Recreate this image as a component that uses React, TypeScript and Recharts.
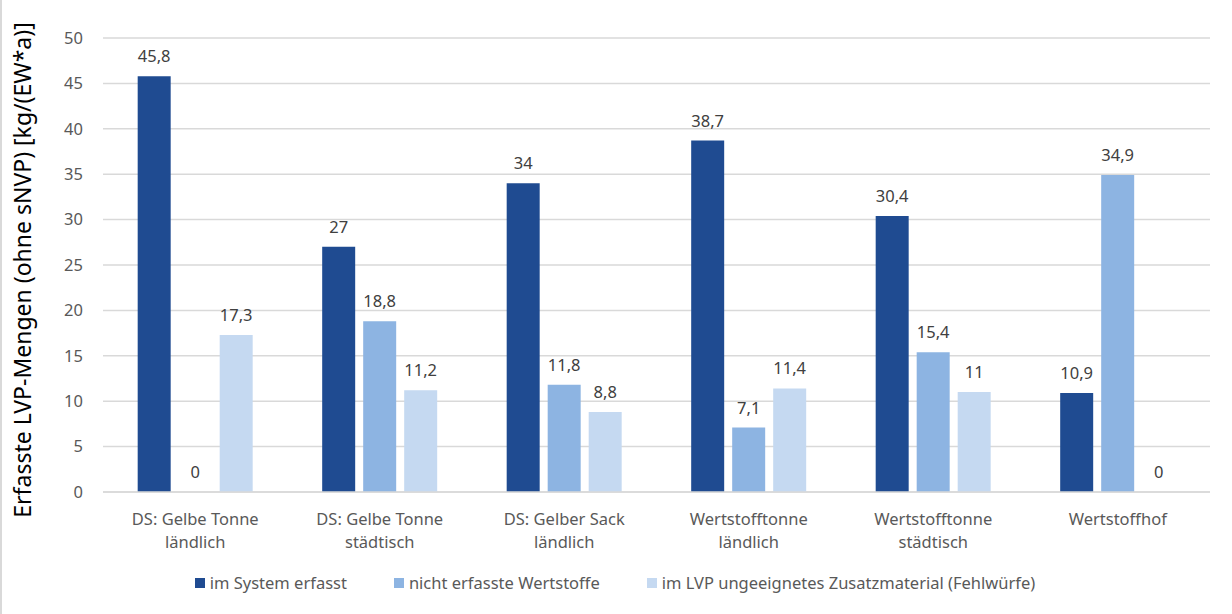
import React from 'react';
import { BarChart, Bar, XAxis, YAxis, CartesianGrid, LabelList } from 'recharts';

const categories = [
  'DS: Gelbe Tonne\nländlich',
  'DS: Gelbe Tonne\nstädtisch',
  'DS: Gelber Sack\nländlich',
  'Wertstofftonne\nländlich',
  'Wertstofftonne\nstädtisch',
  'Wertstoffhof',
];
const imSystem = [45.8, 27, 34, 38.7, 30.4, 10.9];
const nichtErfasst = [0, 18.8, 11.8, 7.1, 15.4, 34.9];
const fehlwuerfe = [17.3, 11.2, 8.8, 11.4, 11, 0];
const yTicks = [0, 5, 10, 15, 20, 25, 30, 35, 40, 45, 50];

const seriesNames = [
  'im System erfasst',
  'nicht erfasste Wertstoffe',
  'im LVP ungeeignetes Zusatzmaterial (Fehlwürfe)',
];
const seriesColors = ['#1F4B91', '#8DB4E2', '#C5D9F1'];

const data = categories.map((name, i) => ({
  name,
  a: imSystem[i],
  b: nichtErfasst[i],
  c: fehlwuerfe[i],
}));

const FONT = '"Noto Sans", "Open Sans", sans-serif';
const TXT = '#595959';

const CategoryTick = (props: any) => {
  const { x, y, payload } = props;
  const lines = String(payload.value).split('\n');
  return (
    <g transform={`translate(${x},${y})`}>
      {lines.map((l, i) => (
        <text key={i} x={0} y={25 + i * 23} textAnchor="middle" fill={TXT} fontSize={16.5} fontFamily={FONT}>
          {l}
        </text>
      ))}
    </g>
  );
};

// value label sitting just above each bar (also for zero values)
const ValueLabel = (props: any) => {
  const { x, y, width, height, value } = props;
  const top = Math.min(y, y + height);
  return (
    <text x={x + width / 2} y={top - 14} textAnchor="middle" fill="#404040" fontSize={16.5} fontFamily={FONT}>
      {String(value).replace('.', ',')}
    </text>
  );
};

const YTitle = () => (
  <text
    transform="translate(31,270) rotate(-90)"
    textAnchor="middle"
    fill="#000"
    fontSize={23}
    fontFamily={FONT}
  >
    Erfasste LVP-Mengen (ohne sNVP) [kg/(EW*a)]
  </text>
);

export default function App() {
  return (
    <div style={{ position: 'absolute', left: 0, top: 0, width: 1232, height: 614, background: '#fff', fontFamily: FONT }}>
      <div style={{ position: 'absolute', left: 0, top: 0, width: 2, height: 614, background: '#d9d9d9' }} />
      <BarChart
        width={1232}
        height={614}
        data={data}
        margin={{ top: 38, right: 22, left: 0, bottom: 52 }}
        barCategoryGap="18.8%"
        barGap={8}
      >
        <CartesianGrid vertical={false} stroke="#d9d9d9" strokeWidth={1.5} />
        <XAxis
          dataKey="name"
          tick={<CategoryTick />}
          tickLine={false}
          axisLine={{ stroke: '#d9d9d9', strokeWidth: 1.5 }}
          height={70}
          interval={0}
        />
        <YAxis
          domain={[0, 50]}
          ticks={yTicks}
          width={103}
          tickLine={false}
          axisLine={false}
          tick={{ fill: TXT, fontSize: 16.5, fontFamily: FONT }}
          tickMargin={14}
          label={<YTitle />}
        />
        <Bar dataKey="a" name={seriesNames[0]} fill={seriesColors[0]} minPointSize={0.01} isAnimationActive={false}>
          <LabelList dataKey="a" content={<ValueLabel />} />
        </Bar>
        <Bar dataKey="b" name={seriesNames[1]} fill={seriesColors[1]} minPointSize={0.01} isAnimationActive={false}>
          <LabelList dataKey="b" content={<ValueLabel />} />
        </Bar>
        <Bar dataKey="c" name={seriesNames[2]} fill={seriesColors[2]} minPointSize={0.01} isAnimationActive={false}>
          <LabelList dataKey="c" content={<ValueLabel />} />
        </Bar>
      </BarChart>
      <div
        style={{
          position: 'absolute',
          left: 0,
          width: 1230,
          top: 571,
          display: 'flex',
          justifyContent: 'center',
          gap: 47,
          fontSize: 16.5,
          color: TXT,
          lineHeight: '24px',
        }}
      >
        {seriesNames.map((n, i) => (
          <div key={n} style={{ display: 'flex', alignItems: 'center' }}>
            <span style={{ display: 'inline-block', width: 10, height: 10, background: seriesColors[i], marginRight: 5 }} />
            <span>{n}</span>
          </div>
        ))}
      </div>
    </div>
  );
}
